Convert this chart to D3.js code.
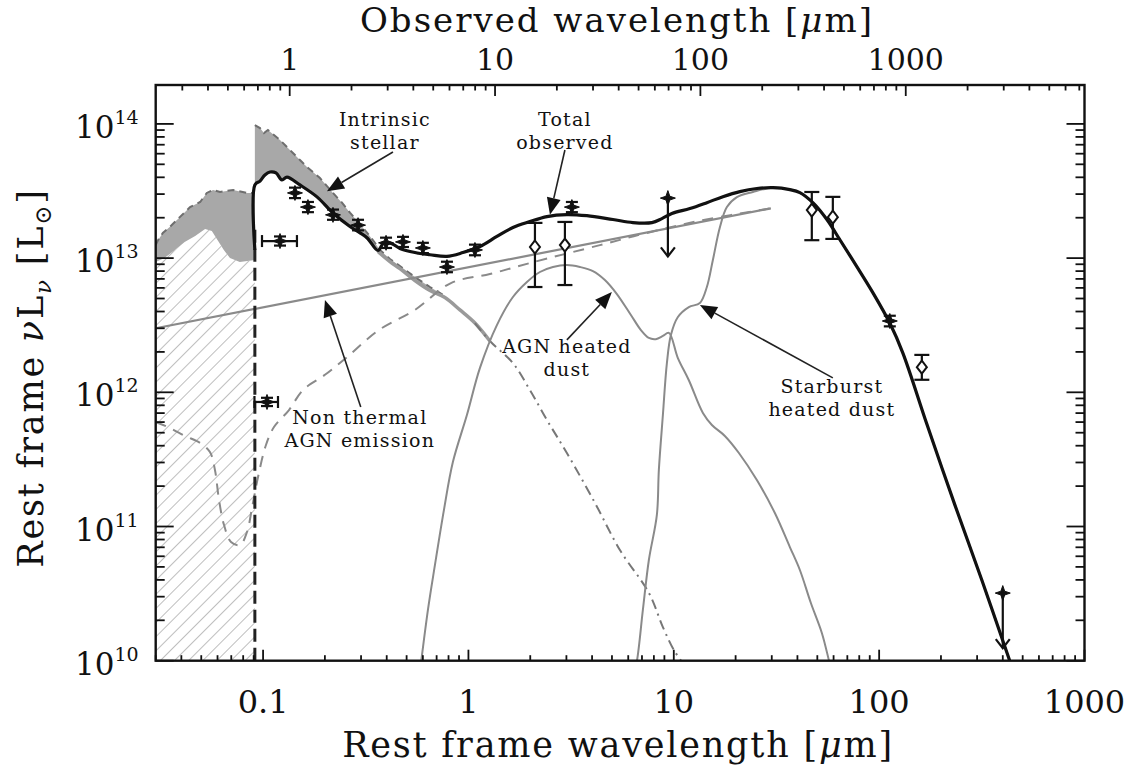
<!DOCTYPE html>
<html lang="en">
<head>
<meta charset="UTF-8">
<title>SED</title>
<script src="https://d3js.org/d3.v7.min.js"></script>
<style>
  body{margin:0;background:#fff;}
  svg text{font-family:"DejaVu Serif",serif;fill:#111;}
</style>
</head>
<body>
<svg id="main" width="1132" height="772"></svg>
<script>
// redshift factor (1+z) for the top axis
const zp1 = 7.42;

// total observed model
const totalLam = [0.0912,0.0912,0.0966,0.1021,0.1080,0.1156,0.1236,0.1307,0.1512,0.1830,0.2189,0.2649,0.3205,0.3625,0.3878,0.4242,0.4639,0.5489,0.6496,0.7857,0.9401,1.138,1.376,1.647,1.992,2.411,3.016,3.776,5.052,6.323,7.823,8.750,9.788,11.98,14.49,17.34,20.98,25.39,30.37,36.75,41.11,47.56,55.66,64.39,77.87,93.17,112.7,130.5,170.7,233.7,316.2,432.8,484];
const totalL = [1.15e13,3.51e13,3.75e13,4.16e13,4.38e13,4.31e13,3.82e13,4.02e13,3.51e13,2.86e13,2.17e13,1.72e13,1.42e13,1.14e13,1.30e13,1.28e13,1.18e13,1.10e13,1.06e13,1.03e13,1.10e13,1.22e13,1.45e13,1.69e13,1.87e13,2.04e13,2.11e13,2.07e13,1.94e13,1.84e13,1.84e13,1.97e13,2.15e13,2.34e13,2.59e13,2.87e13,3.13e13,3.30e13,3.35e13,3.24e13,3.08e13,2.59e13,1.94e13,1.37e13,8.64e12,5.53e12,3.28e12,1.96e12,5.80e11,1.45e11,3.99e10,9.95e9,6.05e9];

// intrinsic stellar, blueward of the Lyman limit (top of grey area)
const uvLam = [0.0300,0.0308,0.0325,0.0352,0.0393,0.0441,0.0494,0.0532,0.0571,0.0617,0.0715,0.0833,0.0912];
const uvL = [1.25e13,1.36e13,1.54e13,1.71e13,2.02e13,2.40e13,2.62e13,3.06e13,3.22e13,3.11e13,3.22e13,3.06e13,3.06e13];
// upper edge of the hatched region
const hatchLam = [0.0300,0.0331,0.0372,0.0415,0.0467,0.0522,0.0563,0.0601,0.0644,0.0690,0.0770,0.0912];
const hatchL = [9.35e12,1.00e13,1.15e13,1.32e13,1.46e13,1.65e13,1.59e13,1.36e13,1.15e13,1.00e13,9.35e12,9.7e12];

// intrinsic stellar redward of the Lyman limit
const intrLam = [0.0912,0.0966,0.1010,0.1056,0.1130,0.1209,0.1307,0.1398,0.1512,0.1636,0.1749,0.1892,0.2047,0.2189,0.2422,0.2649,0.2897,0.3205,0.3467,0.3707,0.4148,0.4639,0.5489,0.6496,0.7685];
const intrL = [9.81e13,9.32e13,8.55e13,9.01e13,8.27e13,7.59e13,6.73e13,6.07e13,5.38e13,4.77e13,4.38e13,3.95e13,3.44e13,3.06e13,2.59e13,2.18e13,1.87e13,1.55e13,1.33e13,1.15e13,9.85e12,8.73e12,7.23e12,6.09e12,5.22e12];

// attenuated stellar
const attLam = [0.0912,0.0966,0.1021,0.1080,0.1156,0.1236,0.1307,0.1512,0.1830,0.2189,0.2649,0.3205,0.3625,0.4148,0.4639,0.5489,0.6496,0.7685,0.9091,1.0755,1.272,1.647,1.992,2.411,3.016,4.13,5.465,7.564,8.849,10.01,10.95];
const attL = [3.51e13,3.82e13,4.16e13,4.38e13,4.31e13,3.82e13,4.02e13,3.45e13,2.80e13,2.13e13,1.69e13,1.37e13,1.12e13,9.42e12,8.35e12,6.80e12,5.73e12,5.08e12,4.11e12,3.28e12,2.41e12,1.65e12,1.04e12,6.22e11,3.53e11,1.50e11,6.68e10,3.20e10,1.78e10,1.20e10,9.8e9];

// dashed grey component
const dashLam = [0.030,0.0352,0.0417,0.0494,0.0551,0.0583,0.0610,0.0645,0.0698,0.0772,0.0835,0.0883,0.0945,0.1033,0.1130,0.1337,0.1564,0.2001,0.2562,0.3665,0.5489,0.8219,1.272,1.992,4.368,7.648,13.40,29.7];
const dashL = [6.01e11,5.42e11,4.73e11,4.19e11,3.59e11,2.64e11,1.58e11,1.03e11,7.66e10,7.28e10,9.10e10,1.37e11,2.34e11,4.05e11,5.51e11,7.38e11,1.04e12,1.35e12,1.83e12,2.91e12,4.11e12,6.52e12,7.61e12,9.19e12,1.25e13,1.56e13,1.90e13,2.35e13];

// non thermal AGN power law
const ntLam = [0.03, 29.7];
const ntL = [3.0e12, 2.35e13];

// AGN heated dust
const agnLam = [0.574,0.635,0.687,0.760,0.840,0.983,1.138,1.376,1.647,1.927,2.229,2.579,3.016,3.490,4.038,4.618,5.284,6.182,6.916,7.562,8.179,8.849,9.465,10.47,11.84,13.86,15.33,17.73,20.75,25.38,31.06,36.75,41.11,46.51,52.60,56.9,58.85];
const agnL = [7.2e9,2.39e10,5.17e10,1.33e11,3.02e11,6.77e11,1.52e12,3.17e12,5.13e12,6.64e12,7.88e12,8.59e12,8.88e12,8.59e12,8.01e12,6.87e12,5.40e12,3.77e12,2.91e12,2.54e12,2.49e12,2.63e12,2.77e12,1.80e12,1.23e12,7.01e11,5.71e11,4.73e11,3.53e11,2.22e11,1.26e11,7.03e10,4.74e10,2.69e10,1.61e10,1.01e10,8.2e9];

// starburst heated dust
const sbLam = [6.393,6.612,7.071,7.562,8.272,8.459,8.849,9.256,9.681,10.47,11.84,13.40,14.49,15.50,16.77,18.14,20.29,24.27,30.37,36.75,41.11,47.56,55.66,64.39,77.87,93.17,112.7,130.5,170.7,233.7,316.2,432.8,484];
const sbL = [8.2e9,9.95e9,2.39e10,5.63e10,1.22e11,2.64e11,6.77e11,1.65e12,2.67e12,3.64e12,4.32e12,4.63e12,6.09e12,9.68e12,1.70e13,2.40e13,2.85e13,3.11e13,3.35e13,3.24e13,3.08e13,2.59e13,1.94e13,1.37e13,8.64e12,5.53e12,3.28e12,1.96e12,5.80e11,1.45e11,3.99e10,9.95e9,6.05e9];

// photometry
const photLam = [0.1045,0.1209,0.143,0.1654,0.219,0.290,0.397,0.48,0.600,0.786,1.076,2.108,2.95,3.19,47.0,59.5,112.7,161.4];
const photL   = [8.47e11,1.34e13,3.06e13,2.40e13,2.10e13,1.76e13,1.30e13,1.32e13,1.19e13,8.58e12,1.15e13,1.21e13,1.25e13,2.40e13,2.28e13,2.02e13,3.40e12,1.54e12];
const photLo  = [7.9e11,1.24e13,2.80e13,2.20e13,1.93e13,1.61e13,1.19e13,1.21e13,1.09e13,7.85e12,1.05e13,6.09e12,6.30e12,2.20e13,1.36e13,1.39e13,3.10e12,1.24e12];
const photHi  = [9.1e11,1.45e13,3.35e13,2.62e13,2.30e13,1.93e13,1.42e13,1.44e13,1.30e13,9.40e12,1.26e13,1.83e13,1.86e13,2.62e13,3.11e13,2.86e13,3.72e12,1.90e12];
const photLamLo = [0.0908,0.0988,null,null,null,null,null,null,null,null,null,null,null,null,null,null,null,null];
const photLamHi = [0.1182,0.1462,null,null,null,null,null,null,null,null,null,null,null,null,null,null,null,null];
const photOpen  = [false,false,false,false,false,false,false,false,false,false,false,true,true,false,true,true,false,true];

// upper limits
const ulLam = [9.36, 400];
const ulL = [2.80e13, 3.19e10];
const ulTip = [1.03e13, 1.24e10];

// Lyman limit
const lymanLam = 0.0912;
const lymanTop = 1.7e13;

// tick labels
const xTickVals = [0.1, 1, 10, 100, 1000];
const xTickText = ["0.1", "1", "10", "100", "1000"];
const obsTickVals = [1, 10, 100, 1000];
const obsTickText = ["1", "10", "100", "1000"];
const yTickExp = [10, 11, 12, 13, 14];

// annotations
const annText = [["Intrinsic","stellar"],["Total","observed"],["Non thermal","AGN emission"],["AGN heated","dust"],["Starburst","heated dust"]];
const annLam = [0.392, 2.95, 0.296, 3.016, 58.85];
const annL = [9.48e13, 9.48e13, 5.70e11, 1.90e12, 9.55e11];
const arrFromLam = [0.429, 2.95, 0.299, 3.016, 59.5];
const arrFromL = [6.18e13, 6.39e13, 7.76e11, 2.46e12, 1.28e12];
const arrToLam = [0.2047, 2.494, 0.2001, 4.995, 13.40];
const arrToL = [3.15e13, 2.10e13, 4.88e12, 5.58e12, 4.48e12];

const svg = d3.select("#main");
const X0 = 155.7, X1 = 1084.5, Y0 = 660.7, Y1 = 85;

const x = d3.scaleLog().domain([0.03, 1000]).range([X0, X1]);
const xObs = d3.scaleLog().domain([0.03 * zp1, 1000 * zp1]).range([X0, X1]);
const y = d3.scaleLog().domain([1e10, Math.pow(10, 14.29)]).range([Y0, Y1]);

const zip = (a, b) => a.map((v, i) => [v, b[i]]);
const line = d3.line().x(d => x(d[0])).y(d => y(d[1]));
const smooth = d3.line().x(d => x(d[0])).y(d => y(d[1])).curve(d3.curveCatmullRom.alpha(0.5));

const defs = svg.append("defs");
defs.append("clipPath").attr("id", "plotclip")
  .append("rect").attr("x", X0).attr("y", Y1).attr("width", X1 - X0).attr("height", Y0 - Y1);
const pat = defs.append("pattern").attr("id", "hatch")
  .attr("patternUnits", "userSpaceOnUse").attr("width", 10).attr("height", 10)
  .attr("patternTransform", "rotate(45)");
pat.append("line").attr("x1", 0).attr("y1", 0).attr("x2", 0).attr("y2", 10)
  .attr("stroke", "#9a9a9a").attr("stroke-width", 1.3);

const g = svg.append("g").attr("clip-path", "url(#plotclip)");

// hatched region blueward of Lyman limit
const hatchPoly = zip(hatchLam, hatchL).concat([[lymanLam, 1e9], [0.03, 1e9]]);
g.append("path").attr("d", line(hatchPoly) + "Z").attr("fill", "url(#hatch)");

// grey intrinsic stellar areas
const uvPoly = zip(uvLam, uvL).concat(zip(hatchLam, hatchL).reverse());
g.append("path").attr("d", line(uvPoly) + "Z").attr("fill", "#a8a8a8");
const nBand = attLam.filter(v => v <= intrLam[intrLam.length - 1]).length;
const bandPoly = zip(intrLam, intrL).concat(zip(attLam, attL).slice(0, nBand).reverse());
g.append("path").attr("d", line(bandPoly) + "Z").attr("fill", "#a8a8a8");

// dashed outline of intrinsic stellar
[zip(uvLam, uvL), zip(intrLam, intrL)].forEach(pts => {
  g.append("path").attr("d", line(pts)).attr("fill", "none")
    .attr("stroke", "#6e6e6e").attr("stroke-width", 2).attr("stroke-dasharray", "7,5");
});

// attenuated stellar: fuzzy band then dash-dot
const attPts = zip(attLam, attL);
g.append("path").attr("d", smooth(attPts.filter(d => d[0] >= 0.36 && d[0] <= 1.3)))
  .attr("fill", "none").attr("stroke", "#9a9a9a").attr("stroke-width", 3.5);
g.append("path").attr("d", smooth(attPts.filter(d => d[0] >= 1.0)))
  .attr("fill", "none").attr("stroke", "#777").attr("stroke-width", 2)
  .attr("stroke-dasharray", "10,5,2,5");

// other grey components
g.append("path").attr("d", smooth(zip(dashLam, dashL))).attr("fill", "none")
  .attr("stroke", "#8a8a8a").attr("stroke-width", 2).attr("stroke-dasharray", "11,8");
g.append("path").attr("d", line(zip(ntLam, ntL))).attr("fill", "none")
  .attr("stroke", "#8a8a8a").attr("stroke-width", 2.2);
g.append("path").attr("d", smooth(zip(agnLam, agnL))).attr("fill", "none")
  .attr("stroke", "#8a8a8a").attr("stroke-width", 2);
g.append("path").attr("d", smooth(zip(sbLam, sbL))).attr("fill", "none")
  .attr("stroke", "#8a8a8a").attr("stroke-width", 2);

// Lyman limit marker
g.append("line").attr("x1", x(lymanLam)).attr("x2", x(lymanLam))
  .attr("y1", y(1e10)).attr("y2", y(lymanTop))
  .attr("stroke", "#222").attr("stroke-width", 3).attr("stroke-dasharray", "13,6");

// total
g.append("path").attr("d", smooth(zip(totalLam, totalL))).attr("fill", "none")
  .attr("stroke", "#111").attr("stroke-width", 3.2).attr("stroke-linejoin", "round");

// photometry
const star = "M0,-7.5L1.9,-1.9L7.5,0L1.9,1.9L0,7.5L-1.9,1.9L-7.5,0L-1.9,-1.9Z";
const diamond = "M0,-6.5L5,0L0,6.5L-5,0Z";
const pg = svg.append("g").attr("stroke", "#111").attr("fill", "none");
photLam.forEach((lam, i) => {
  const px = x(lam), py = y(photL[i]);
  const cw = photOpen[i] ? 7.5 : 6;
  const ylo = y(photLo[i]), yhi = y(photHi[i]);
  pg.append("line").attr("x1", px).attr("x2", px).attr("y1", ylo).attr("y2", yhi).attr("stroke-width", 2.2);
  [ylo, yhi].forEach(yy => pg.append("line").attr("x1", px - cw).attr("x2", px + cw)
    .attr("y1", yy).attr("y2", yy).attr("stroke-width", 2.2));
  if (photLamLo[i] !== null) {
    const xl = x(photLamLo[i]), xh = x(photLamHi[i]);
    pg.append("line").attr("x1", xl).attr("x2", xh).attr("y1", py).attr("y2", py).attr("stroke-width", 2.2);
    [xl, xh].forEach(xx => pg.append("line").attr("x1", xx).attr("x2", xx)
      .attr("y1", py - 6).attr("y2", py + 6).attr("stroke-width", 2.2));
  }
  if (photOpen[i]) {
    pg.append("path").attr("d", diamond).attr("transform", `translate(${px},${py})`)
      .attr("fill", "#fff").attr("stroke-width", 2);
  } else {
    pg.append("path").attr("d", star).attr("transform", `translate(${px},${py})`)
      .attr("fill", "#111").attr("stroke-width", 1);
  }
});
ulLam.forEach((lam, i) => {
  const px = x(lam), py = y(ulL[i]), pt = y(ulTip[i]);
  pg.append("line").attr("x1", px).attr("x2", px).attr("y1", py).attr("y2", pt).attr("stroke-width", 2.2);
  pg.append("path").attr("d", `M${px - 7},${pt - 9}L${px},${pt}L${px + 7},${pt - 9}`).attr("stroke-width", 2.2);
  pg.append("path").attr("d", star).attr("transform", `translate(${px},${py})`)
    .attr("fill", "#111").attr("stroke-width", 1);
});

// annotations
const ag = svg.append("g");
annText.forEach((lines, i) => {
  lines.forEach((s, k) => {
    ag.append("text").attr("x", x(annLam[i])).attr("y", y(annL[i]) - 1.5 + k * 23)
      .attr("text-anchor", "middle").attr("font-size", 19).attr("letter-spacing", 1.2).text(s);
  });
  const x1 = x(arrFromLam[i]), y1 = y(arrFromL[i]), x2 = x(arrToLam[i]), y2 = y(arrToL[i]);
  const ang = Math.atan2(y2 - y1, x2 - x1), hl = 17, hw = 7;
  const bx = x2 - hl * Math.cos(ang), by = y2 - hl * Math.sin(ang);
  ag.append("line").attr("x1", x1).attr("y1", y1).attr("x2", bx).attr("y2", by)
    .attr("stroke", "#222").attr("stroke-width", 1.6);
  ag.append("path").attr("fill", "#111")
    .attr("d", `M${x2},${y2}L${bx - hw * Math.sin(ang)},${by + hw * Math.cos(ang)}L${bx + hw * Math.sin(ang)},${by - hw * Math.cos(ang)}Z`);
});

// frame and ticks
function logTicks(lo, hi) {
  const out = [];
  for (let e = Math.floor(Math.log10(lo)); e <= Math.ceil(Math.log10(hi)); e++) {
    for (let m = 1; m < 10; m++) {
      const v = m * Math.pow(10, e);
      if (v >= lo * 0.999 && v <= hi * 1.001) out.push({ v: v, major: m === 1 });
    }
  }
  return out;
}
const ax = svg.append("g").attr("stroke", "#111").attr("stroke-width", 1.8);
logTicks(0.03, 1000).forEach(t => {
  const px = x(t.v), len = t.major ? 11 : 5.5;
  ax.append("line").attr("x1", px).attr("x2", px).attr("y1", Y0).attr("y2", Y0 - len);
});
logTicks(0.03 * zp1, 1000 * zp1).forEach(t => {
  const px = xObs(t.v), len = t.major ? 11 : 5.5;
  ax.append("line").attr("x1", px).attr("x2", px).attr("y1", Y1).attr("y2", Y1 + len);
});
logTicks(1e10, Math.pow(10, 14.29)).forEach(t => {
  const py = y(t.v), len = t.major ? 18 : 9;
  ax.append("line").attr("x1", X0).attr("x2", X0 + len).attr("y1", py).attr("y2", py);
  ax.append("line").attr("x1", X1).attr("x2", X1 - len).attr("y1", py).attr("y2", py);
});
svg.append("rect").attr("x", X0).attr("y", Y1).attr("width", X1 - X0).attr("height", Y0 - Y1)
  .attr("fill", "none").attr("stroke", "#111").attr("stroke-width", 2.4);

// tick labels
xTickVals.forEach((v, i) => {
  svg.append("text").attr("x", x(v)).attr("y", 713).attr("text-anchor", "middle")
    .attr("font-size", 32).text(xTickText[i]);
});
obsTickVals.forEach((v, i) => {
  svg.append("text").attr("x", xObs(v)).attr("y", 70).attr("text-anchor", "middle")
    .attr("font-size", 30).text(obsTickText[i]);
});
yTickExp.forEach(e => {
  const py = y(Math.pow(10, e));
  const t = svg.append("text").attr("x", 75).attr("y", py + 14).attr("font-size", 31);
  t.append("tspan").text("10");
  t.append("tspan").attr("font-size", 19).attr("dy", -14).text(String(e));
});

// axis titles
const xt = svg.append("text").attr("x", 618).attr("y", 757).attr("text-anchor", "middle")
  .attr("font-size", 35).attr("letter-spacing", 1.8);
xt.append("tspan").text("Rest frame wavelength [");
xt.append("tspan").attr("font-style", "italic").text("μ");
xt.append("tspan").text("m]");
const tt = svg.append("text").attr("x", 617).attr("y", 32).attr("text-anchor", "middle")
  .attr("font-size", 34).attr("letter-spacing", 2);
tt.append("tspan").text("Observed wavelength [");
tt.append("tspan").attr("font-style", "italic").text("μ");
tt.append("tspan").text("m]");
const yt = svg.append("text").attr("transform", "translate(43,378) rotate(-90)")
  .attr("text-anchor", "middle").attr("font-size", 35).attr("letter-spacing", 1.8);
yt.append("tspan").text("Rest frame ");
yt.append("tspan").attr("font-style", "italic").text("ν");
yt.append("tspan").text("L");
yt.append("tspan").attr("font-style", "italic").attr("font-size", 23).attr("dy", 8).text("ν");
yt.append("tspan").attr("dy", -8).text(" [L");
yt.append("tspan").attr("font-size", 23).attr("dy", 8).text("⊙");
yt.append("tspan").attr("dy", -8).text("]");
</script>
</body>
</html>
